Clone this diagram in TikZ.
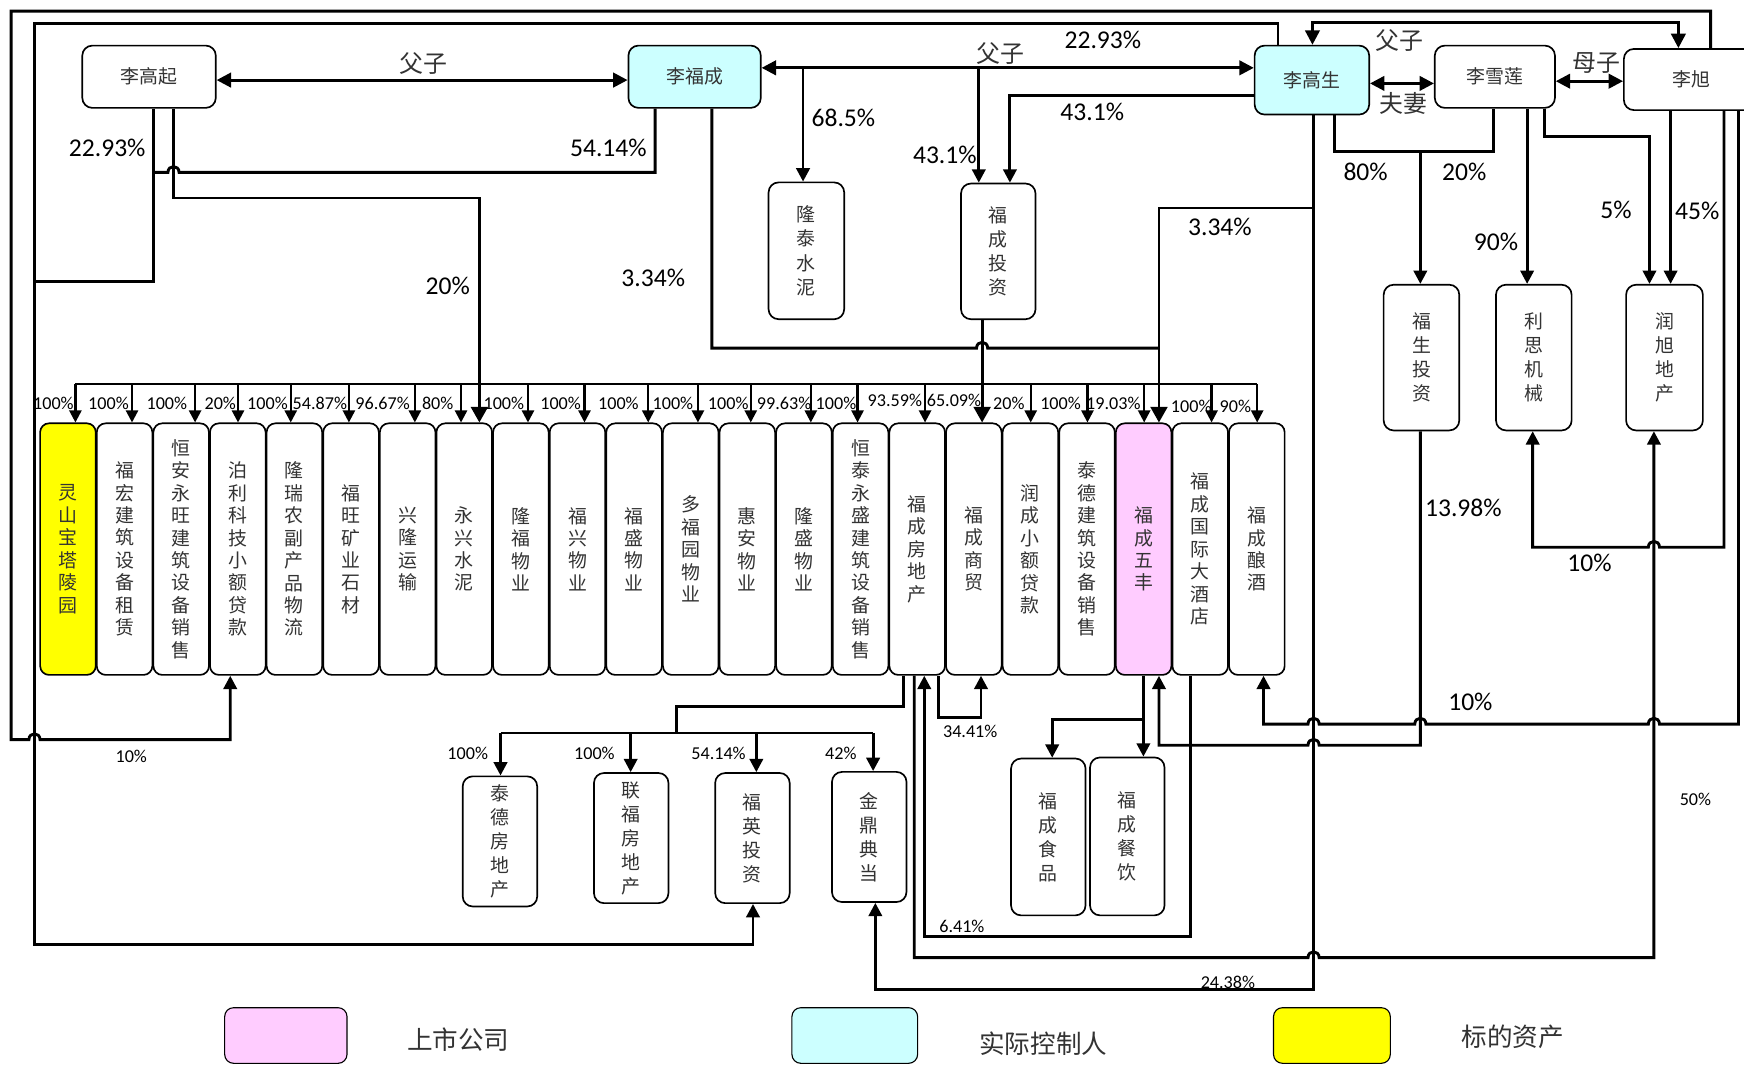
\documentclass[tikz,border=0pt]{standalone}
\usepackage{fontspec}
\setmainfont{Carlito}
\newfontfamily\cjk{Noto Sans CJK SC}
\usetikzlibrary{arrows.meta}
\definecolor{cyanfill}{HTML}{CCFFFF}
\definecolor{pinkfill}{HTML}{FFCCFF}
\definecolor{yellowfill}{HTML}{FFFF00}
\definecolor{txtgray}{HTML}{333333}
\tikzset{
  person/.style={draw, fill=white, line width=1.5pt, rounded corners=9pt, inner sep=0pt,
    font=\cjk\fontsize{17}{17}\selectfont, text=txtgray},
  vbox/.style={draw, fill=white, line width=1.5pt, rounded corners=8pt, inner sep=0pt, align=center,
    font=\cjk\fontsize{17}{20.2}\selectfont, text=txtgray, minimum width=50pt, minimum height=226.2pt},
  sbox/.style={draw, fill=white, line width=1.5pt, rounded corners=9pt, inner sep=0pt, align=center,
    font=\cjk\fontsize{17}{21.6}\selectfont, text=txtgray},
  legbox/.style={draw, line width=1pt, rounded corners=8pt, inner sep=0pt},
  conn/.style={line width=2.6pt},
  bus/.style={line width=2.1pt},
  smtip/.style={-{Triangle[width=11pt,length=11pt]}},
  tip/.style={-{Triangle[width=12pt,length=12pt]}},
  bigtip/.style={-{Triangle[width=15pt,length=14pt]}},
  dtip/.style={{Triangle[width=13pt,length=13pt]}-{Triangle[width=13pt,length=13pt]}},
  pbig/.style={font=\fontsize{23}{23}\selectfont, inner sep=0pt},
  psm/.style={font=\fontsize{16.3}{16.3}\selectfont, inner sep=0pt},
  rel/.style={font=\cjk\fontsize{21.5}{21.5}\selectfont, inner sep=0pt, text=txtgray},
  legtext/.style={font=\cjk\fontsize{23}{23}\selectfont, inner sep=0pt, text=txtgray},
}
\begin{document}
\begin{tikzpicture}[x=1pt,y=-1pt]
\clip (0,0) rectangle (1568,957);
\fill[white] (0,0) rectangle (1568,957);

% ---------- persons ----------
\node[person, minimum width=120pt, minimum height=56pt] (lgq) at (134,69) {李高起};
\node[person, fill=cyanfill, minimum width=119pt, minimum height=56pt] (lfc) at (624.5,69) {李福成};
\node[person, fill=cyanfill, minimum width=103pt, minimum height=62pt] (lgs) at (1179.5,72) {李高生};
\node[person, minimum width=108pt, minimum height=56pt] (lxl) at (1344,69) {李雪莲};
\node[person, minimum width=121pt, minimum height=55pt] (lx) at (1520.5,71.5) {李旭};

% ---------- upper companies ----------
\node[sbox, minimum width=68pt, minimum height=123pt] (ltsn) at (725,225.5) {隆\\泰\\水\\泥};
\node[sbox, minimum width=67pt, minimum height=122pt] (fctz) at (897.5,226) {福\\成\\投\\资};
\node[sbox, minimum width=68pt, minimum height=131pt] (fstz) at (1278,321.5) {福\\生\\投\\资};
\node[sbox, minimum width=68pt, minimum height=131pt] (lsjx) at (1379,321.5) {利\\思\\机\\械};
\node[sbox, minimum width=69pt, minimum height=131pt] (rxdc) at (1496.5,321.5) {润\\旭\\地\\产};

% ---------- middle row ----------
\node[vbox, fill=yellowfill] (b0) at (61.1,493.7) {灵\\山\\宝\\塔\\陵\\园};
\node[vbox] (b1) at (112.0,493.7) {福\\宏\\建\\筑\\设\\备\\租\\赁};
\node[vbox] (b2) at (162.9,493.7) {恒\\安\\永\\旺\\建\\筑\\设\\备\\销\\售};
\node[vbox] (b3) at (213.8,493.7) {泊\\利\\科\\技\\小\\额\\贷\\款};
\node[vbox] (b4) at (264.7,493.7) {隆\\瑞\\农\\副\\产\\品\\物\\流};
\node[vbox] (b5) at (315.6,493.7) {福\\旺\\矿\\业\\石\\材};
\node[vbox] (b6) at (366.5,493.7) {兴\\隆\\运\\输};
\node[vbox] (b7) at (417.4,493.7) {永\\兴\\水\\泥};
\node[vbox] (b8) at (468.3,493.7) {隆\\福\\物\\业};
\node[vbox] (b9) at (519.2,493.7) {福\\兴\\物\\业};
\node[vbox] (b10) at (570.1,493.7) {福\\盛\\物\\业};
\node[vbox] (b11) at (621.0,493.7) {多\\福\\园\\物\\业};
\node[vbox] (b12) at (671.9,493.7) {惠\\安\\物\\业};
\node[vbox] (b13) at (722.8,493.7) {隆\\盛\\物\\业};
\node[vbox] (b14) at (773.7,493.7) {恒\\泰\\永\\盛\\建\\筑\\设\\备\\销\\售};
\node[vbox] (b15) at (824.6,493.7) {福\\成\\房\\地\\产};
\node[vbox] (b16) at (875.5,493.7) {福\\成\\商\\贸};
\node[vbox] (b17) at (926.4,493.7) {润\\成\\小\\额\\贷\\款};
\node[vbox] (b18) at (977.3,493.7) {泰\\德\\建\\筑\\设\\备\\销\\售};
\node[vbox, fill=pinkfill] (b19) at (1028.2,493.7) {福\\成\\五\\丰};
\node[vbox] (b20) at (1079.1,493.7) {福\\成\\国\\际\\大\\酒\\店};
\node[vbox] (b21) at (1130.0,493.7) {福\\成\\酿\\酒};

% ---------- lower companies ----------
\node[sbox, minimum width=67pt, minimum height=117pt] (tdfdc) at (449.5,756.5) {泰\\德\\房\\地\\产};
\node[sbox, minimum width=67pt, minimum height=117pt] (lffdc) at (567.5,753.5) {联\\福\\房\\地\\产};
\node[sbox, minimum width=67pt, minimum height=117pt] (fytz) at (676.5,753.5) {福\\英\\投\\资};
\node[sbox, minimum width=67pt, minimum height=117pt] (jddd) at (781.5,752.5) {金\\鼎\\典\\当};
\node[sbox, minimum width=67pt, minimum height=141pt] (fcsp) at (942.5,752.5) {福\\成\\食\\品};
\node[sbox, minimum width=67pt, minimum height=142pt] (fccy) at (1013.5,752) {福\\成\\餐\\饮};

% ---------- relations between persons ----------
\coordinate (y72) at (0,72);
\coordinate (y61) at (0,61);
\coordinate (y75) at (0,75);
\coordinate (y73) at (0,73);
\draw[conn,dtip] (lgq.east |- y72) -- (lfc.west |- y72);
\draw[conn,dtip] (lfc.east |- y61) -- (lgs.west |- y61);
\draw[conn,dtip] (lgs.east |- y75) -- (lxl.west |- y75);
\draw[conn,dtip] (lxl.east |- y73) -- (lx.west |- y73);
\coordinate (p1) at (1180,20);
\coordinate (p2) at (1509,20);
\draw[conn,dtip] (p1 |- lgs.north) -- (p1) -- (p2) -- (p2 |- lx.north);

% branches from the 李福成-李高生 line
\coordinate (j1) at (722,61);
\coordinate (j2) at (880,61);
\draw[conn,tip] (j1) -- (j1 |- ltsn.north);
\draw[conn,tip] (j2) -- (j2 |- fctz.north);
\coordinate (k1) at (908,86);
\draw[conn,tip] (lgs.west |- k1) -- (k1) -- (k1 |- fctz.north);

% outer line A: 李旭 -> 泊利科技
\coordinate (a1) at (1538,10);
\coordinate (a2) at (10,10);
\coordinate (a3) at (10,665);
\coordinate (a4) at (207,665);
\draw[conn,tip] (a1 |- lx.north) -- (a1) -- (a2) -- (a3) -- (26,665) .. controls (26,658) and (36,658) .. (36,665) -- (a4) -- (a4 |- b3.south);

% line B: 李高生 / 李高起 / 李福成 -> 福英投资
\coordinate (e1) at (1149,21.5);
\coordinate (e2) at (31,21.5);
\coordinate (e3) at (31,849);
\coordinate (e4) at (677,849);
\draw[conn,tip] (e1 |- lgs.north) -- (e1) -- (e2) -- (e3) -- (e4) -- (e4 |- fytz.south);
\coordinate (c1) at (138,253);
\draw[conn] (c1 |- lgq.south) -- (c1) -- (c1 -| e2);
\coordinate (d1) at (589,155);
\coordinate (d2) at (138,155);
\draw[conn] (d1 |- lfc.south) -- (d1) -- (161,155) .. controls (161,148) and (151,148) .. (151,155) -- (d2);

% 李高起 20% -> 永兴水泥
\coordinate (f1) at (156,178);
\coordinate (f2) at (431,178);
\draw[conn,bigtip] (f1 |- lgq.south) -- (f1) -- (f2) -- (f2 |- b7.north);

% 李福成 3.34%
\coordinate (g1) at (640,313);
\coordinate (g2) at (1042,313);
\draw[conn] (g1 |- lfc.south) -- (g1) -- (878,313) .. controls (878,306) and (888,306) .. (888,313) -- (g2);

% 李高生 vertical: 3.34% -> 福成五丰, 24.38% -> 金鼎典当
\coordinate (h1) at (1181,890);
\coordinate (h2) at (787,890);
\draw[conn,tip] (h1 |- lgs.south) -- (h1) -- (h2) -- (h2 |- jddd.south);
\coordinate (h3) at (1181,187);
\coordinate (h4) at (1042,187);
\draw[conn,bigtip] (h3) -- (h4) -- (h4 |- b19.north);

% 福成投资 65.09% -> 福成商贸
\coordinate (i1) at (883,300);
\draw[conn,bigtip] (i1 |- fctz.south) -- (i1 |- b16.north);

% 李高生 / 李雪莲 -> 福生投资
\coordinate (m1) at (1200,136);
\coordinate (m2) at (1343,136);
\coordinate (m3) at (1277,136);
\draw[conn] (m1 |- lgs.south) -- (m1) -- (m2) -- (m2 |- lxl.south);
\draw[conn,tip] (m3) -- (m3 |- fstz.north);

% 李雪莲 90% -> 利思机械
\coordinate (n1) at (1373,200);
\draw[conn,tip] (n1 |- lxl.south) -- (n1 |- lsjx.north);
% 李雪莲 5% -> 润旭地产
\coordinate (o1) at (1389,123);
\coordinate (o2) at (1483,123);
\draw[conn,tip] (o1 |- lxl.south) -- (o1) -- (o2) -- (o2 |- rxdc.north);
% 李旭 45% -> 润旭地产
\coordinate (q1) at (1502,200);
\draw[conn,tip] (q1 |- lx.south) -- (q1 |- rxdc.north);

% 李旭 10% -> 利思机械
\coordinate (r1) at (1550,492);
\coordinate (r2) at (1378,492);
\draw[conn,tip] (r1 |- lx.south) -- (r1) -- (1492,492) .. controls (1492,485) and (1482,485) .. (1482,492) -- (r2) -- (r2 |- lsjx.south);

% 李旭 10% -> 福成酿酒
\coordinate (s1) at (1563,651);
\coordinate (s2) at (1136,651);
\draw[conn,tip] (s1 |- lx.south) -- (s1)
  -- (1492,651) .. controls (1492,644) and (1482,644) .. (1482,651)
  -- (1282,651) .. controls (1282,644) and (1272,644) .. (1272,651)
  -- (1186,651) .. controls (1186,644) and (1176,644) .. (1176,651)
  -- (s2) -- (s2 |- b21.south);

% 福生投资 13.98% -> 福成五丰
\coordinate (u1) at (1277,670);
\coordinate (u2) at (1042,670);
\draw[conn,tip] (u1 |- fstz.south) -- (u1) -- (1186,670) .. controls (1186,663) and (1176,663) .. (1176,670) -- (u2) -- (u2 |- b19.south);

% 福成房地产 50% -> 润旭地产
\coordinate (v1) at (822,861);
\coordinate (v2) at (1487,861);
\draw[conn,tip] (v1 |- b15.south) -- (v1) -- (1176,861) .. controls (1176,854) and (1186,854) .. (1186,861) -- (v2) -- (v2 |- rxdc.south);

% 福成国际大酒店 6.41% -> 福成房地产
\coordinate (w1) at (1070,842);
\coordinate (w2) at (831,842);
\draw[conn,tip] (w1 |- b20.south) -- (w1) -- (w2) -- (w2 |- b15.south);

% 福成房地产 34.41% -> 福成商贸
\coordinate (z1) at (844,645);
\coordinate (z2) at (882,645);
\draw[conn,tip] (z1 |- b15.south) -- (z1) -- (z2) -- (z2 |- b16.south);

% 福成房地产 -> lower subsidiaries
\coordinate (l1) at (812,635);
\coordinate (l2) at (608,635);
\coordinate (l3) at (608,659);
\draw[conn] (l1 |- b15.south) -- (l1) -- (l2) -- (l3);
\coordinate (lb1) at (450,659);
\coordinate (lb2) at (567,659);
\coordinate (lb3) at (680,659);
\coordinate (lb4) at (785,659);
\draw[conn] (lb1) -- (lb4);
\draw[conn,tip] (lb1) -- (lb1 |- tdfdc.north);
\draw[conn,tip] (lb2) -- (lb2 |- lffdc.north);
\draw[conn,tip] (lb3) -- (lb3 |- fytz.north);
\draw[conn,tip] (lb4) -- (lb4 |- jddd.north);

% 福成五丰 -> 福成食品 / 福成餐饮
\coordinate (x1) at (1028,647);
\coordinate (x2) at (946,647);
\draw[conn,tip] (x1 |- b19.south) -- (x1 |- fccy.north);
\draw[conn,tip] (x1) -- (x2) -- (x2 |- fcsp.north);

% ---------- top bus ----------
\foreach \i/\xx in {0/67.8, 1/118.7, 2/175.4, 3/214, 4/261.4, 5/313.7, 6/373, 7/414.5, 8/474.7, 9/525.5,
  10/582.8, 11/627.5, 12/675, 13/729, 14/771, 15/831.7, 17/926.7, 18/977.7, 19/1028.7, 20/1089.3, 21/1130.3}{
  \coordinate (t\i) at (\xx,345.5);
  \draw[bus,smtip] (t\i) -- (t\i |- b\i.north);
}
\draw[bus] (t0) -- (t21);

% ---------- percentages ----------
\begin{scope}[every node/.style={psm}]
\node (q0) at (48,362.6) {100\%};
\node (q1n) at (97.5,362.6) {100\%};
\node (q2) at (150,362.6) {100\%};
\node (q3) at (198,362.6) {20\%};
\node (q4) at (240.5,362.6) {100\%};
\node (q5) at (287.6,362.6) {54.87\%};
\node (q6) at (344,362.6) {96.67\%};
\node (q7) at (393.5,362.6) {80\%};
\node (q8) at (453,362.6) {100\%};
\node (q9) at (504,362.6) {100\%};
\node (q10) at (556,362.6) {100\%};
\node (q11) at (605,362.6) {100\%};
\node (q12) at (654.7,362.6) {100\%};
\node (q13) at (705,362.6) {99.63\%};
\node (q14) at (751.6,362.6) {100\%};
\node (q15) at (804.5,359.6) {93.59\%};
\node (q16) at (857.7,359.6) {65.09\%};
\node (q17) at (907,362.6) {20\%};
\node (q18) at (953.5,362.6) {100\%};
\node (q19) at (1001,362.6) {19.03\%};
\node (q20) at (1071,365.6) {100\%};
\node (q21) at (1110.7,365.6) {90\%};
\node (qa) at (118,680) {10\%};
\node (qb) at (420.5,677) {100\%};
\node (qc) at (534.4,677) {100\%};
\node (qd) at (646,677) {54.14\%};
\node (qe) at (756,677) {42\%};
\node (qf) at (872.3,657.8) {34.41\%};
\node (qg) at (864.8,833) {6.41\%};
\node (qh) at (1104,883) {24.38\%};
\node (qi) at (1524.3,719) {50\%};
\end{scope}
\begin{scope}[every node/.style={pbig}]
\node (r0) at (96.4,133.3) {22.93\%};
\node (r1n) at (547,133.3) {54.14\%};
\node (r2n) at (402.6,257) {20\%};
\node (r3) at (587.3,250.2) {3.34\%};
\node (r4) at (758.3,106.4) {68.5\%};
\node (r5) at (849.5,139.3) {43.1\%};
\node (r6) at (982,100.4) {43.1\%};
\node (r7) at (991.6,36) {22.93\%};
\node (r8) at (1096.8,203.8) {3.34\%};
\node (r9) at (1227.8,154.3) {80\%};
\node (r10) at (1316.4,154.3) {20\%};
\node (r11) at (1453,188.8) {5\%};
\node (r12) at (1526,190) {45\%};
\node (r13) at (1345,217.3) {90\%};
\node (r14) at (1315.7,457) {13.98\%};
\node (r15) at (1429,506.4) {10\%};
\node (r16) at (1322,630.8) {10\%};
\end{scope}

% relation labels
\node[rel] (rl1) at (381,57) {父子};
\node[rel] (rl2) at (899.4,48) {父子};
\node[rel] (rl3) at (1258,36) {父子};
\node[rel] (rl4) at (1262,93) {夫妻};
\node[rel] (rl5) at (1435,57) {母子};

% ---------- legend ----------
\node[legbox, fill=pinkfill, minimum width=110pt, minimum height=50pt] (lg1) at (257,931) {};
\node[legtext] (lt1) at (412,935) {上市公司};
\node[legbox, fill=cyanfill, minimum width=113pt, minimum height=50pt] (lg2) at (768.5,931) {};
\node[legtext] (lt2) at (938,938) {实际控制人};
\node[legbox, fill=yellowfill, minimum width=105pt, minimum height=50pt] (lg3) at (1197.5,931) {};
\node[legtext] (lt3) at (1360,932) {标的资产};
\end{tikzpicture}
\end{document}
